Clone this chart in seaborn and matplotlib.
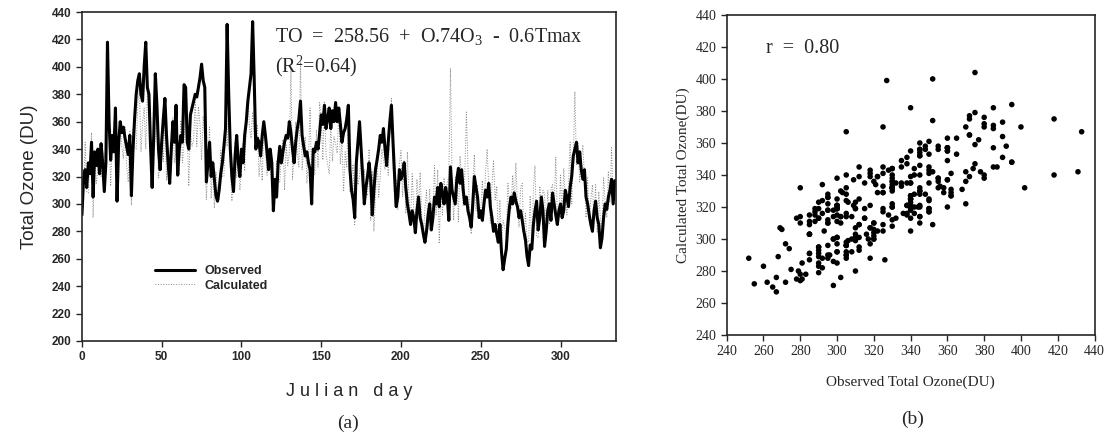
import numpy as np
import pandas as pd
import matplotlib
matplotlib.use('Agg')
import matplotlib.pyplot as plt
import seaborn as sns

# daily total ozone (DU)
observed = [292, 318, 325, 312, 330, 322, 345, 305, 338, 328,
            340, 322, 344, 330, 309, 330, 418, 360, 332, 350,
            338, 370, 302, 345, 360, 352, 356, 348, 342, 336,
            350, 306, 340, 362, 380, 390, 395, 380, 375, 400,
            418, 385, 380, 342, 312, 350, 395, 372, 340, 325,
            345, 362, 377, 350, 330, 315, 340, 360, 345, 372,
            321, 340, 350, 345, 387, 385, 345, 340, 365, 370,
            375, 380, 378, 385, 392, 402, 390, 385, 316, 330,
            345, 320, 330, 318, 306, 302, 310, 322, 330, 342,
            355, 431, 380, 340, 320, 309, 335, 350, 330, 320,
            340, 330, 350, 360, 375, 385, 395, 433, 390, 340,
            348, 345, 335, 350, 360, 350, 338, 325, 340, 330,
            295, 318, 305, 330, 342, 330, 338, 345, 350, 348,
            360, 352, 340, 330, 345, 355, 362, 375, 350, 342,
            335, 338, 330, 325, 300, 340, 338, 345, 340, 352,
            365, 358, 372, 355, 362, 370, 355, 368, 360, 374,
            360, 370, 358, 345, 352, 355, 362, 372, 325, 310,
            303, 290, 330, 345, 360, 340, 320, 300, 312, 320,
            330, 318, 292, 310, 325, 332, 340, 350, 345, 355,
            340, 328, 345, 360, 372, 345, 320, 298, 305, 325,
            318, 322, 330, 312, 300, 293, 285, 295, 290, 279,
            295, 305, 290, 285, 278, 272, 280, 292, 300, 281,
            290, 305, 300, 312, 298, 315, 308, 300, 312, 305,
            288, 327, 310, 305, 300, 318, 326, 315, 325, 310,
            300, 305, 295, 290, 283, 300, 320, 312, 305, 290,
            295, 288, 300, 310, 305, 315, 298, 290, 280, 285,
            278, 272, 285, 265, 252, 260, 267, 285, 298, 305,
            300, 308, 302, 298, 290, 295, 288, 280, 274, 262,
            255, 270, 267, 285, 295, 302, 281, 290, 305, 295,
            269, 280, 295, 300, 288, 308, 300, 292, 285, 295,
            300, 290, 295, 310, 305, 298, 312, 320, 335, 340,
            345, 330, 338, 325, 318, 325, 305, 300, 292, 285,
            280, 295, 302, 290, 285, 268, 275, 290, 300, 296,
            305, 310, 318, 300, 317]

calculated = [316, 307, 345, 309, 308, 329, 352, 290, 335, 315,
              325, 339, 320, 336, 337, 322, 375, 357, 313, 345,
              351, 336, 314, 314, 357, 342, 333, 356, 328, 316,
              353, 299, 355, 341, 340, 373, 384, 338, 359, 370,
              340, 382, 372, 344, 339, 335, 348, 365, 319, 329,
              356, 331, 362, 317, 338, 319, 323, 363, 330, 339,
              334, 321, 361, 330, 345, 369, 352, 313, 353, 342,
              347, 376, 342, 371, 358, 332, 364, 345, 303, 332,
              356, 304, 332, 297, 323, 310, 303, 339, 320, 320,
              356, 342, 370, 327, 302, 321, 345, 319, 330, 310,
              325, 344, 324, 355, 379, 357, 348, 367, 351, 339,
              358, 320, 335, 317, 357, 341, 321, 341, 327, 312,
              318, 307, 332, 320, 316, 334, 347, 310, 343, 328,
              337, 400, 318, 336, 360, 338, 327, 404, 325, 340,
              349, 315, 332, 370, 319, 335, 321, 354, 327, 374,
              363, 332, 375, 336, 329, 322, 358, 331, 349, 344,
              337, 370, 329, 346, 309, 338, 327, 365, 309, 319,
              329, 285, 332, 314, 320, 335, 310, 325, 309, 306,
              340, 288, 324, 280, 305, 335, 305, 319, 340, 332,
              325, 343, 321, 355, 377, 332, 300, 318, 296, 329,
              339, 305, 332, 293, 338, 305, 287, 322, 295, 280,
              318, 298, 323, 291, 275, 297, 310, 282, 311, 285,
              293, 328, 292, 325, 271, 313, 292, 319, 301, 316,
              319, 399, 319, 288, 319, 321, 287, 335, 317, 299,
              321, 367, 326, 295, 278, 315, 336, 295, 314, 291,
              296, 317, 292, 323, 340, 313, 286, 313, 332, 303,
              313, 273, 303, 270, 288, 283, 276, 315, 300, 296,
              321, 300, 330, 300, 283, 312, 315, 274, 294, 273,
              272, 306, 267, 311, 328, 276, 275, 313, 296, 310,
              307, 278, 310, 285, 311, 314, 297, 334, 291, 290,
              321, 289, 326, 307, 292, 314, 345, 300, 333, 382,
              328, 344, 316, 333, 343, 319, 290, 319, 288, 303,
              314, 288, 314, 279, 309, 289, 281, 319, 301, 290,
              324, 301, 341, 301, 300]

julian_day = list(range(len(observed)))

eq_text = 'TO  =  258.56  +  O.74O$_3$  -  0.6Tmax'
r2_text = '(R$^2$=0.64)'
r_text = 'r  =  0.80'

df = pd.DataFrame({'day': julian_day, 'Observed': observed, 'Calculated': calculated})

sns.set_style('ticks')
plt.rcParams['font.family'] = ['Liberation Sans', 'DejaVu Sans']
plt.rcParams['mathtext.fontset'] = 'custom'
plt.rcParams['mathtext.rm'] = 'Liberation Serif'
plt.rcParams['mathtext.it'] = 'Liberation Serif'
plt.rcParams['axes.linewidth'] = 1.2

fig = plt.figure(figsize=(11.18, 4.38), dpi=100)

# (a) time series
ax1 = fig.add_axes([0.0733, 0.2215, 0.478, 0.751])
sns.lineplot(data=df, x='day', y='Calculated', ax=ax1, color='#8a8a8a', lw=0.7,
             linestyle=':', label='Calculated')
sns.lineplot(data=df, x='day', y='Observed', ax=ax1, color='black', lw=2.2, label='Observed')
ax1.set_xlim(0, 335)
ax1.set_ylim(200, 440)
ax1.set_xticks(range(0, 301, 50))
ax1.set_yticks(range(200, 441, 20))
for lab in ax1.get_xticklabels() + ax1.get_yticklabels():
    lab.set_fontweight('bold')
    lab.set_fontsize(8.5)
ax1.tick_params(direction='out', length=4, width=1)
ax1.set_ylabel('Total Ozone (DU)', fontsize=13.5, labelpad=10)
ax1.set_xlabel('J u l i a n   d a y', fontsize=13, labelpad=14)
handles, labels = ax1.get_legend_handles_labels()
ax1.legend(handles[::-1], labels[::-1], loc='center left', bbox_to_anchor=(0.115, 0.19),
           frameon=False, handlelength=3.2, labelspacing=0.2,
           prop={'weight': 'bold', 'size': 9})
ax1.text(0.361, 0.927, eq_text, transform=ax1.transAxes, va='center', ha='left',
         fontsize=14.5, family='Liberation Serif')
ax1.text(0.361, 0.836, r2_text, transform=ax1.transAxes, va='center', ha='left',
         fontsize=14.5, family='Liberation Serif')
fig.text(348 / 1118, 1 - 423 / 438, '(a)', ha='center', va='center',
         fontsize=14, family='Liberation Serif')

# (b) scatter
ax2 = fig.add_axes([0.650, 0.235, 0.329, 0.731])
sns.scatterplot(data=df, x='Observed', y='Calculated', ax=ax2, color='black',
                s=16, edgecolor='none')
ax2.set_xlim(240, 440)
ax2.set_ylim(240, 440)
ax2.set_xticks(range(240, 441, 20))
ax2.set_yticks(range(240, 441, 20))
for lab in ax2.get_xticklabels() + ax2.get_yticklabels():
    lab.set_family('Liberation Serif')
    lab.set_fontsize(10)
ax2.tick_params(direction='out', length=4, width=1)
ax2.set_xlabel('Observed Total Ozone(DU)', fontsize=11, family='Liberation Serif', labelpad=12)
ax2.set_ylabel('Calculated Total Ozone(DU)', fontsize=11, family='Liberation Serif', labelpad=4)
ax2.text(0.106, 0.894, r_text, transform=ax2.transAxes, va='center', ha='left',
         fontsize=14.5, family='Liberation Serif')
fig.text(913 / 1118, 1 - 419 / 438, '(b)', ha='center', va='center',
         fontsize=14, family='Liberation Serif')

fig.savefig('out.png', dpi=100)
